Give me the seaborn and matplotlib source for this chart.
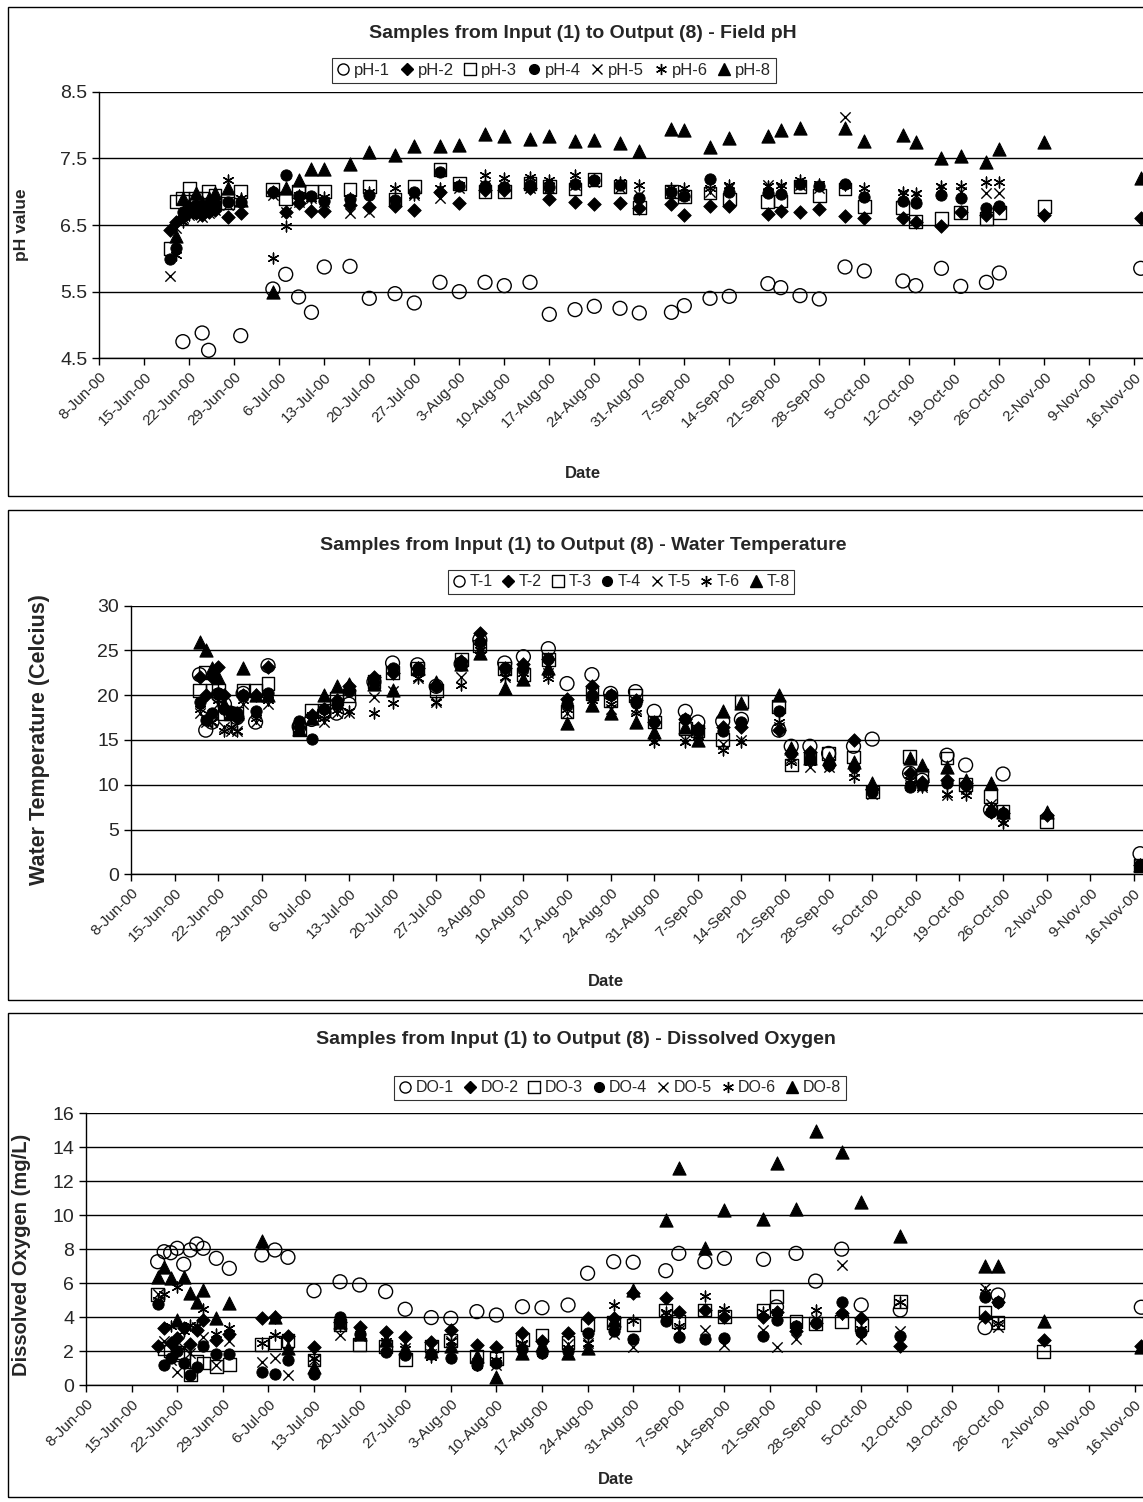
import numpy as np
import pandas as pd
import matplotlib
matplotlib.use('Agg')
import matplotlib.pyplot as plt
import matplotlib.dates as mdates
from matplotlib.patches import Rectangle
from matplotlib.lines import Line2D
import seaborn as sns

nan = np.nan

# Sampling dates (year 2000)
sample_dates = [
    '2000-06-19', '2000-06-20', '2000-06-21', '2000-06-22', '2000-06-23',
    '2000-06-24', '2000-06-25', '2000-06-26', '2000-06-28', '2000-06-30',
    '2000-07-05', '2000-07-07', '2000-07-09', '2000-07-11', '2000-07-13',
    '2000-07-17', '2000-07-20', '2000-07-24', '2000-07-27', '2000-07-31',
    '2000-08-03', '2000-08-07', '2000-08-10', '2000-08-14', '2000-08-17',
    '2000-08-21', '2000-08-24', '2000-08-28', '2000-08-31', '2000-09-05',
    '2000-09-07', '2000-09-11', '2000-09-14', '2000-09-20', '2000-09-22',
    '2000-09-25', '2000-09-28', '2000-10-02', '2000-10-05', '2000-10-11',
    '2000-10-13', '2000-10-17', '2000-10-20', '2000-10-24', '2000-10-26',
    '2000-11-02', '2000-11-17',
]

# Field pH
ph_1 = [nan, nan, 4.75, nan, nan, 4.88, 4.62, nan, nan, 4.84,
        5.54, 5.76, 5.42, 5.19, 5.87, 5.88, 5.40, 5.47, 5.33, 5.64,
        5.50, 5.64, 5.59, 5.64, 5.16, 5.23, 5.28, 5.25, 5.18, 5.19,
        5.29, 5.40, 5.43, 5.62, 5.56, 5.44, 5.39, 5.87, 5.81, 5.66,
        5.59, 5.85, 5.58, 5.64, 5.78, nan, 5.85]
ph_2 = [6.43, 6.55, 6.62, 6.70, 6.68, 6.65, 6.70, 6.72, 6.62, 6.68,
        7.00, 6.70, 6.83, 6.71, 6.71, 6.80, 6.77, 6.79, 6.73, 7.00,
        6.83, 7.03, 7.03, 7.05, 6.89, 6.85, 6.82, 6.83, 6.75, 6.82,
        6.65, 6.79, 6.78, 6.66, 6.71, 6.69, 6.74, 6.64, 6.61, 6.60,
        6.55, 6.48, 6.69, 6.65, 6.76, 6.65, 6.60]
ph_3 = [6.15, 6.85, 6.90, 7.05, 6.90, 6.90, 7.00, 6.95, 6.83, 7.00,
        7.03, 6.90, 7.00, 7.00, 7.00, 7.03, 7.08, 6.89, 7.08, 7.33,
        7.12, 7.00, 7.00, 7.12, 7.08, 7.04, 7.18, 7.08, 6.76, 7.00,
        6.93, 6.98, 6.89, 6.85, 6.86, 7.08, 6.94, 7.04, 6.78, 6.76,
        6.55, 6.60, 6.69, 6.60, 6.69, 6.78, nan]
ph_4 = [5.99, 6.15, 6.70, 6.75, 6.80, 6.72, 6.78, 6.82, 6.85, 6.85,
        7.00, 7.25, 6.93, 6.94, 6.86, 6.89, 6.95, 6.88, 7.00, 7.29,
        7.09, 7.08, 7.07, 7.10, 7.07, 7.12, 7.18, 7.10, 6.90, 7.00,
        6.93, 7.19, 7.00, 6.98, 6.97, 7.12, 7.08, 7.12, 6.92, 6.86,
        6.83, 6.95, 6.90, 6.75, 6.78, nan, nan]
ph_5 = [5.74, 6.45, 6.60, 6.65, 6.70, 6.62, 6.68, 6.72, 6.80, 6.75,
        6.95, 6.70, 6.85, 6.90, 6.85, 6.68, 6.70, 6.85, 6.95, 6.90,
        7.05, 7.10, 7.10, 7.05, 7.05, 7.10, 7.15, 7.05, 6.95, 6.98,
        6.95, 7.00, 7.05, 7.10, 7.05, 7.10, 7.05, 8.12, 6.95, 6.95,
        6.95, 7.05, 7.00, 6.98, 6.98, nan, nan]
ph_6 = [nan, 6.05, 6.55, 6.65, 6.75, 6.70, 6.75, 6.80, 7.18, 6.90,
        6.00, 6.49, 6.95, 6.90, 6.92, 6.90, 7.00, 7.05, 6.95, 7.05,
        7.10, 7.25, 7.20, 7.22, 7.18, 7.25, 7.18, 7.15, 7.10, 7.05,
        7.05, 7.05, 7.10, 7.08, 7.10, 7.18, 7.12, 7.10, 7.05, 7.00,
        6.98, 7.08, 7.08, 7.15, 7.15, nan, nan]
ph_8 = [nan, 6.33, 6.90, 6.80, 6.98, 6.85, 6.90, 6.98, 7.05, 6.88,
        5.50, 7.05, 7.18, 7.34, 7.34, 7.42, 7.60, 7.55, 7.68, 7.69,
        7.70, 7.87, 7.84, 7.79, 7.84, 7.76, 7.77, 7.73, 7.61, 7.94,
        7.93, 7.67, 7.81, 7.84, 7.93, 7.96, nan, 7.95, 7.76, 7.85,
        7.74, 7.50, 7.53, 7.45, 7.64, 7.75, 7.20]

# Water temperature (Celcius)
t_1 = [22.3, 16.1, 17.0, 20.0, 19.0, 18.0, 17.5, 20.2, 17.0, 23.3,
       16.5, 17.3, 18.0, 18.0, 19.0, 21.5, 23.6, 23.4, 21.0, 23.5,
       26.2, 23.6, 24.3, 25.2, 21.3, 22.3, 20.2, 20.4, 18.2, 18.2,
       17.0, 17.1, 17.3, 16.1, 14.3, 14.3, 13.5, 14.3, 15.1, 11.3,
       10.5, 13.3, 12.2, 7.2, 11.2, nan, 2.3]
t_2 = [22.0, 20.0, 22.0, 23.2, 20.0, 18.0, 17.5, 20.0, 20.0, 23.2,
       16.5, 17.8, 18.5, 19.5, 21.0, 22.0, 22.5, 23.0, 21.0, 23.8,
       27.0, 23.0, 23.5, 24.0, 19.6, 21.0, 20.0, 19.5, 17.0, 17.3,
       16.3, 16.5, 16.5, 16.1, 13.6, 13.7, 12.2, 15.0, 9.5, 11.3,
       10.3, 10.5, 10.2, 7.0, 6.8, 6.6, 1.0]
t_3 = [20.5, 22.5, 20.5, 20.5, 18.0, 18.0, 18.0, 20.5, 20.5, 21.3,
       16.2, 18.3, 18.3, 19.6, 20.0, 21.5, 22.5, 23.0, 20.5, 24.0,
       25.5, 23.0, 22.3, 24.0, 18.2, 20.2, 19.4, 20.0, 17.0, 16.3,
       16.0, 15.1, 19.3, 18.7, 12.2, 13.0, 13.5, 13.1, 9.2, 13.2,
       11.0, 13.0, 10.0, 8.7, 7.0, 5.9, 1.0]
t_4 = [19.2, 17.2, 18.0, 20.3, 18.5, 18.0, 18.0, 20.0, 18.2, 20.3,
       17.1, 15.1, 18.5, 19.0, 20.5, 21.5, 23.0, 23.0, 21.0, 23.5,
       26.0, 23.0, 23.0, 24.0, 19.0, 20.0, 20.0, 19.1, 17.0, 17.3,
       16.0, 16.0, 17.0, 18.2, 13.5, 13.0, 12.2, 12.0, 9.2, 9.7,
       10.0, 10.2, 10.0, 7.0, 6.8, nan, 1.0]
t_5 = [18.0, 17.0, 17.0, 19.0, 16.5, 16.0, 16.0, 19.0, 17.0, 19.0,
       16.0, 17.5, 17.0, 18.0, 18.0, 19.8, 20.5, 21.9, 19.3, 22.0,
       25.5, 22.0, 22.0, 22.5, 18.0, 19.0, 18.5, 18.5, 15.0, 15.0,
       15.0, 14.5, 15.0, 16.5, 13.0, 12.0, 12.0, 11.5, 9.0, 10.0,
       9.8, 8.85, 9.5, 7.8, 6.0, nan, 1.0]
t_6 = [18.5, 17.5, 17.0, 19.5, 16.0, 16.5, 16.0, 19.5, 17.5, 19.5,
       16.2, 17.8, 17.5, 18.3, 18.2, 18.0, 19.1, 21.9, 19.3, 21.1,
       25.0, 22.0, 22.5, 21.9, 18.5, 19.5, 19.0, 18.0, 14.8, 14.8,
       15.5, 13.9, 14.8, 17.0, 12.5, 12.5, 12.5, 10.9, 9.5, 10.5,
       9.8, 9.0, 8.85, 7.5, 5.7, nan, 1.0]
t_8 = [26.0, 25.0, 23.0, 22.0, 19.0, 18.0, 18.0, 23.0, 20.0, 20.0,
       16.2, 17.5, 20.0, 21.0, 21.2, 21.2, 20.6, 23.0, 21.5, 23.5,
       24.7, 20.8, 21.8, 23.0, 16.9, 18.9, 18.0, 17.0, 15.9, 16.5,
       15.0, 18.2, 19.1, 20.0, 14.1, 13.0, 13.0, 12.5, 10.2, 13.0,
       12.2, 12.0, 10.5, 10.2, 7.0, 7.0, 1.04]

# Dissolved oxygen (mg/L)
do_1 = [7.26, 7.85, 7.79, 8.05, 7.11, 7.95, 8.30, 8.05, 7.46, 6.87,
        7.66, 7.95, 7.52, nan, 5.55, 6.08, 5.89, 5.50, 4.46, 3.97,
        3.93, 4.32, 4.12, 4.61, 4.55, 4.71, 6.58, 7.26, 7.23, 6.73,
        7.75, 7.26, 7.46, 7.40, 4.60, 7.75, 6.12, 8.00, 4.71, 4.42,
        nan, nan, nan, 3.38, 5.30, nan, 4.58]
do_2 = [2.32, 3.38, 2.50, 2.79, 3.34, 2.40, 3.24, 3.83, 2.65, 3.00,
        3.93, 4.00, 2.90, nan, 2.22, 3.73, 3.43, 3.14, 2.85, 2.55,
        3.24, 2.36, 2.26, 3.04, 2.60, 3.04, 3.93, 3.93, 5.40, 5.10,
        4.32, 4.42, 4.02, 4.00, 4.30, 3.20, 3.63, 4.26, 3.93, 2.30,
        nan, nan, nan, 4.00, 4.90, 2.65, 2.30]
do_3 = [5.34, 2.16, 2.00, 1.80, 1.90, 0.60, 1.37, 1.30, 1.08, 1.22,
        2.40, 2.50, 2.60, nan, 1.47, 3.53, 2.40, 2.26, 1.51, 2.30,
        2.60, 1.67, 1.57, 2.70, 2.94, 2.50, 3.53, 3.70, 3.53, 4.42,
        3.73, 4.42, 4.02, 4.42, 5.20, 3.73, 3.63, 3.73, 3.53, 4.90,
        nan, nan, nan, 4.26, 3.67, 1.96, nan]
do_4 = [4.77, 1.18, 1.60, 2.00, 1.28, 0.59, 1.08, 2.30, 1.83, 1.83,
        0.78, 0.65, 1.47, nan, 0.65, 4.02, 3.00, 1.96, 1.75, 1.80,
        1.57, 1.18, 1.30, 2.10, 1.90, 2.00, 3.04, 3.20, 2.69, 3.79,
        2.81, 2.69, 2.75, 2.90, 3.83, 3.50, 3.63, 4.87, 3.10, 2.88,
        nan, nan, nan, 5.16, 4.90, nan, nan]
do_5 = [5.34, 2.60, 1.50, 0.78, 2.20, 1.90, 3.40, 2.80, 1.20, 2.60,
        1.37, 1.57, 0.59, nan, 1.47, 2.94, 2.90, 2.30, 2.20, 1.80,
        2.60, 1.30, 1.20, 2.30, 2.20, 2.40, 2.50, 3.00, 2.26, 4.10,
        3.24, 3.24, 2.36, 3.24, 2.22, 2.70, 3.90, 7.07, 2.70, 3.20,
        nan, nan, nan, 5.70, 3.40, nan, nan]
do_6 = [5.00, 5.34, 3.50, 5.80, 3.20, 3.53, 3.50, 4.50, 3.00, 3.34,
        2.50, 2.94, 2.00, nan, 1.60, 3.50, 3.20, 2.60, 2.10, 1.67,
        2.60, 1.18, 1.50, 2.50, 1.90, 2.20, 2.50, 4.71, 3.83, 4.30,
        3.50, 5.24, 4.50, 4.30, 4.30, 3.50, 4.42, 4.20, 3.30, 4.90,
        nan, nan, nan, 5.50, 3.67, nan, nan]
do_8 = [6.38, 6.97, 6.30, 3.83, 6.38, 5.40, 4.90, 5.60, 3.93, 4.81,
        8.50, 4.02, 2.16, nan, 1.08, 3.73, 3.00, 2.65, 2.20, 2.00,
        2.30, 1.70, 0.49, 1.87, 2.36, 1.87, 2.16, 3.80, 5.60, 9.72,
        12.76, 8.05, 10.30, 9.76, 13.06, 10.35, 14.98, 13.74, 10.76, 8.77,
        nan, nan, nan, 7.03, 7.03, 3.77, 2.26]

sns.set_style('white')
plt.rcParams['font.family'] = ['Liberation Sans', 'DejaVu Sans']

W, H = 1143, 1502
fig = plt.figure(figsize=(W / 100, H / 100), dpi=100)


def fx(px):
    return px / W


def fy(py):
    return 1 - py / H


# marker look for sample points 1,2,3,4,5,6,8
styles = [
    dict(marker='o', facecolor='none', edgecolor='black', linewidth=1.0, s=100),
    dict(marker='D', color='black', edgecolor='black', s=48),
    dict(marker='s', facecolor='none', edgecolor='black', linewidth=1.0, s=85),
    dict(marker='o', color='black', edgecolor='black', s=66),
    dict(marker='x', color='black', linewidth=1.0, s=55),
    dict(marker=(6, 2, 0), color='black', linewidth=1.0, s=60),
    dict(marker='^', color='black', edgecolor='black', s=90),
]
leg_styles = [
    dict(marker='o', mfc='none', mec='black', ms=8),
    dict(marker='D', mfc='black', mec='black', ms=6),
    dict(marker='s', mfc='none', mec='black', ms=8),
    dict(marker='o', mfc='black', mec='black', ms=7),
    dict(marker='x', mec='black', ms=7),
    dict(marker=(6, 2, 0), mec='black', ms=8),
    dict(marker='^', mfc='black', mec='black', ms=8),
]

dates = pd.to_datetime(sample_dates)
start = pd.Timestamp('2000-06-08')
week_ticks = pd.date_range('2000-06-08', '2000-11-16', freq='7D')

panels = [
    dict(title='Samples from Input (1) to Output (8) - Field pH',
         prefix='pH', series=[ph_1, ph_2, ph_3, ph_4, ph_5, ph_6, ph_8],
         ylim=(4.5, 8.5), yticks=[4.5, 5.5, 6.5, 7.5, 8.5],
         ylabel='pH value', ylabel_size=12.5,
         left=99.3, top=91.7, bottom=358.3, day_px=45 / 7,
         frame=(8, 7, 496), title_xy=(583, 33), leg_xy=(554, 70), leg_size=12,
         xlabel_xy=(583, 473), ylabel_xy=(22, 225)),
    dict(title='Samples from Input (1) to Output (8) - Water Temperature',
         prefix='T', series=[t_1, t_2, t_3, t_4, t_5, t_6, t_8],
         ylim=(0, 30), yticks=[0, 5, 10, 15, 20, 25, 30],
         ylabel='Water Temperature (Celcius)', ylabel_size=15.5,
         left=131, top=605.7, bottom=874.3, day_px=43.6 / 7,
         frame=(8, 510, 1000), title_xy=(583, 546), leg_xy=(621, 582), leg_size=11.5,
         xlabel_xy=(606, 982), ylabel_xy=(40, 740)),
    dict(title='Samples from Input (1) to Output (8) - Dissolved Oxygen',
         prefix='DO', series=[do_1, do_2, do_3, do_4, do_5, do_6, do_8],
         ylim=(0, 16), yticks=list(range(0, 17, 2)),
         ylabel='Dissolved Oxygen (mg/L)', ylabel_size=14.5,
         left=86, top=1113.3, bottom=1385, day_px=45.6 / 7,
         frame=(8, 1013, 1497), title_xy=(576, 1039), leg_xy=(620, 1088), leg_size=11.5,
         xlabel_xy=(616, 1480), ylabel_xy=(22, 1255)),
]
labels_num = ['1', '2', '3', '4', '5', '6', '8']
span_days = 166

for p in panels:
    right = p['left'] + span_days * p['day_px']
    ax = fig.add_axes([fx(p['left']), fy(p['bottom']),
                       (right - p['left']) / W, (p['bottom'] - p['top']) / H])
    for vals, st in zip(p['series'], styles):
        sns.scatterplot(x=dates, y=np.array(vals, dtype=float), ax=ax,
                        zorder=3, clip_on=False, **st)
    ax.set_xlim(start, start + pd.Timedelta(days=span_days))
    ax.set_ylim(*p['ylim'])
    ax.set_yticks(p['yticks'])
    ax.set_xticks(week_ticks)
    ax.xaxis.set_major_formatter(mdates.DateFormatter('%-d-%b-%y'))
    ax.set_xlabel('')
    ax.set_ylabel('')
    ax.grid(axis='y', color='black', linewidth=1.0)
    ax.grid(axis='x', visible=False)
    ax.set_axisbelow(True)
    for side in ['top', 'right']:
        ax.spines[side].set_visible(False)
    for side in ['left', 'bottom']:
        ax.spines[side].set_color('black')
        ax.spines[side].set_linewidth(1.0)
    ax.tick_params(axis='x', direction='out', length=5, width=1, color='black',
                   labelsize=11, bottom=True)
    ax.tick_params(axis='y', direction='out', length=5, width=1, color='black',
                   labelsize=14, left=True)
    plt.setp(ax.get_xticklabels(), rotation=45, ha='right', rotation_mode='anchor')

    handles = [Line2D([], [], linestyle='none', **ls) for ls in leg_styles]
    leg = fig.legend(handles, [f"{p['prefix']}-{n}" for n in labels_num],
                     loc='center', bbox_to_anchor=(fx(p['leg_xy'][0]), fy(p['leg_xy'][1])),
                     ncol=7, frameon=True, fancybox=False, edgecolor='black',
                     handlelength=0.8, handletextpad=0.25, columnspacing=0.6,
                     borderpad=0.3, fontsize=p['leg_size'])
    leg.get_frame().set_linewidth(0.8)

    fig.text(fx(p['title_xy'][0]), fy(p['title_xy'][1]), p['title'],
             ha='center', va='center', fontsize=14, fontweight='bold')
    fig.text(fx(p['xlabel_xy'][0]), fy(p['xlabel_xy'][1]), 'Date',
             ha='center', va='center', fontsize=12, fontweight='bold')
    fig.text(fx(p['ylabel_xy'][0]), fy(p['ylabel_xy'][1]), p['ylabel'],
             ha='center', va='center', rotation=90, fontsize=p['ylabel_size'],
             fontweight='bold')

    x0, y0, y1 = p['frame']
    fig.add_artist(Rectangle((fx(x0), fy(y1)), (1200 - x0) / W, (y1 - y0) / H,
                             transform=fig.transFigure, fill=False,
                             edgecolor='black', linewidth=1.0))

fig.savefig('out.png', dpi=100)
